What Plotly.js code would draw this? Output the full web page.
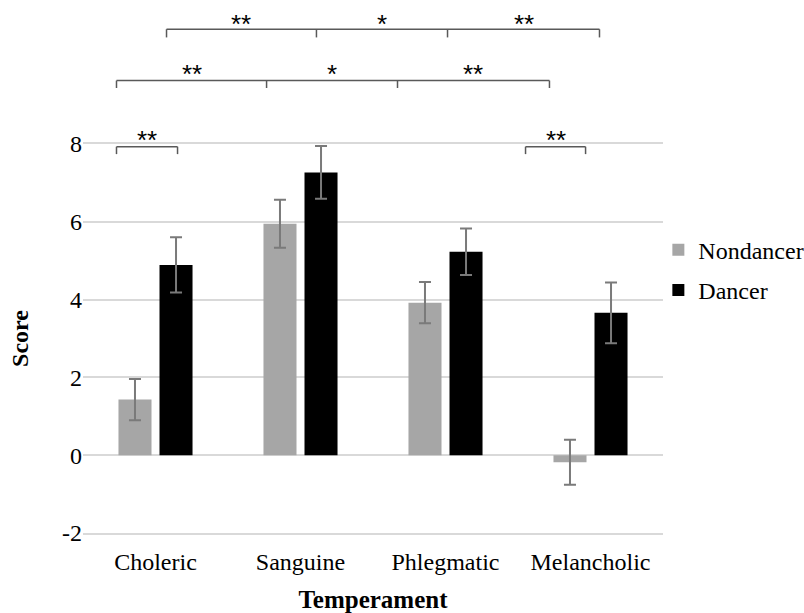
<!DOCTYPE html>
<html>
<head>
<meta charset="utf-8">
<script src="https://cdn.plot.ly/plotly-3.0.1.min.js"></script>
<style>html,body{margin:0;padding:0;background:#fff;}#chart{width:804px;height:613px;}</style>
</head>
<body>
<div id="chart"></div>
<script>
// ---- data ----
const categories = ["Choleric", "Sanguine", "Phlegmatic", "Melancholic"];
const nondancer = [1.43, 5.95, 3.92, -0.18];
const nondancerErr = [0.53, 0.62, 0.53, 0.58];
const dancer = [4.89, 7.27, 5.23, 3.66];
const dancerErr = [0.71, 0.68, 0.60, 0.78];
const yTicks = [-2, 0, 2, 4, 6, 8];

// significance brackets: [x positions along category axis], y of line, tick depth, labels
const brackets = [
  {xs: [0.076, 1.110, 2.014, 3.062], y: 10.95, drop: 0.21, labels: ["**", "*", "**"]},
  {xs: [-0.269, 0.766, 1.669, 2.717], y: 9.63, drop: 0.19, labels: ["**", "*", "**"]},
  {xs: [-0.269, 0.152], y: 7.93, drop: 0.19, labels: ["**"]},
  {xs: [2.552, 2.966], y: 7.93, drop: 0.19, labels: ["**"]}
];

const serif = "Liberation Serif";
const errStyle = {type: "data", visible: true, color: "#7a7a7a", thickness: 2, width: 6};

const traces = [
  {type: "bar", name: "Nondancer", x: categories, y: nondancer,
   error_y: Object.assign({array: nondancerErr}, errStyle),
   marker: {color: "#a6a6a6"}, legendgroup: "a"},
  {type: "bar", name: "Dancer", x: categories, y: dancer,
   error_y: Object.assign({array: dancerErr}, errStyle),
   marker: {color: "#000000"}, legendgroup: "b"}
];

// helpers mapping axis values to paper coordinates
const xp = c => (c + 0.5) / categories.length;
const yMin = -2, yMax = 8;
const yp = v => (v - yMin) / (yMax - yMin);

const shapes = [];
const annotations = [];
const lineStyle = {color: "#595959", width: 1.5};
brackets.forEach((b, k) => {
  const x0 = b.xs[0], x1 = b.xs[b.xs.length - 1];
  shapes.push({type: "line", xref: "paper", yref: "paper", x0: xp(x0), x1: xp(x1), y0: yp(b.y), y1: yp(b.y), line: lineStyle});
  b.xs.forEach(x => {
    shapes.push({type: "line", xref: "paper", yref: "paper", x0: xp(x), x1: xp(x), y0: yp(b.y), y1: yp(b.y - b.drop), line: lineStyle});
  });
  b.labels.forEach((lab, i) => {
    annotations.push({xref: "paper", yref: "paper", x: xp((b.xs[i] + b.xs[i + 1]) / 2), y: yp(b.y),
      yanchor: "bottom", xanchor: "center", yshift: k === 0 ? -12 : -10, text: lab, showarrow: false,
      font: {family: "Liberation Sans", size: 26, color: "#000"}});
  });
});

const layout = {
  width: 804, height: 613,
  margin: {l: 82.5, r: 141, t: 144, b: 80.3, autoexpand: false},
  paper_bgcolor: "#fff", plot_bgcolor: "#fff",
  barmode: "group", bargap: 0.434, bargroupgap: 0.195,
  font: {family: serif, size: 24, color: "#000"},
  xaxis: {type: "category", showgrid: false, zeroline: false,
    showline: true, mirror: true, linecolor: "#d9d9d9", linewidth: 2,
    ticks: "", ticklabelstandoff: 6,
    tickfont: {family: serif, size: 24, color: "#000"},
    title: {text: "<b>Temperament</b>", font: {family: serif, size: 25, color: "#000"}, standoff: 21},
    range: [-0.5, 3.5]},
  yaxis: {range: [yMin, yMax], tickvals: yTicks, ticktext: yTicks.map(String),
    showgrid: true, gridcolor: "#d9d9d9", gridwidth: 2, zeroline: false, showline: false,
    ticks: "", ticklen: 0, tickfont: {family: serif, size: 24, color: "#000"},
    title: {text: "<b>Score</b>", font: {family: serif, size: 24, color: "#000"}, standoff: 26}},
  legend: {x: 0.992, xanchor: "left", y: 0.785, yanchor: "top", font: {family: serif, size: 24, color: "#000"},
    traceorder: "grouped", tracegroupgap: 6, bgcolor: "rgba(0,0,0,0)"},
  shapes: shapes,
  annotations: annotations,
  showlegend: true
};

Plotly.newPlot("chart", traces, layout, {displayModeBar: false, staticPlot: true});
</script>
</body>
</html>
